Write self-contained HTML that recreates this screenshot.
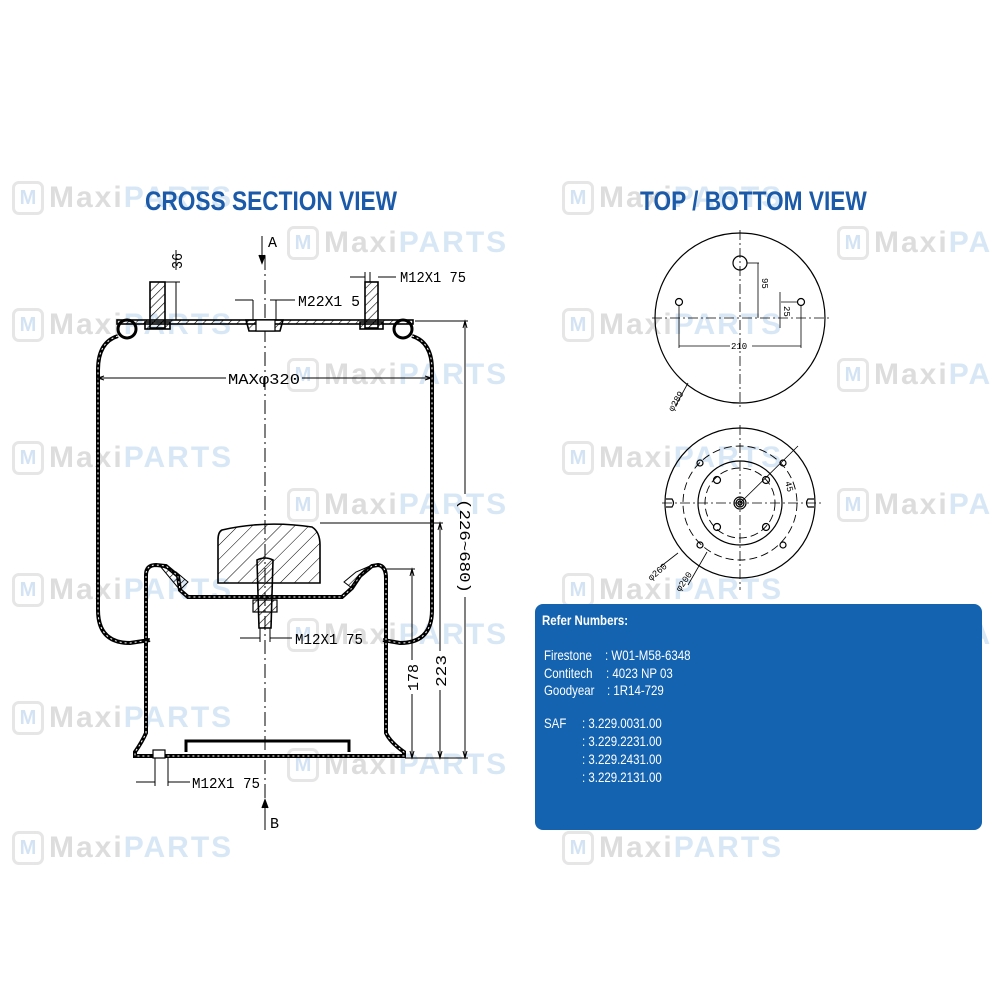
<!DOCTYPE html>
<html><head><meta charset="utf-8"><style>
html,body{margin:0;padding:0;background:#fff;}
body{width:1000px;height:1000px;position:relative;overflow:hidden;font-family:"Liberation Sans",sans-serif;}
.wm{position:absolute;height:34px;display:flex;align-items:center;font-weight:bold;font-size:30px;letter-spacing:2px;opacity:.45;}
.wm .hx{width:32px;height:34px;border:3px solid #c8c8c8;border-radius:7px;margin-right:5px;box-sizing:border-box;color:#9ec3e6;font-size:20px;text-align:center;line-height:28px;letter-spacing:0;}
.wm .a{color:#b4b4b4;}
.wm .b{color:#a9cbea;}
.title{position:absolute;color:#1a5aa8;font-weight:bold;font-size:27px;transform:scaleX(0.84);transform-origin:left center;white-space:nowrap;}
.box{position:absolute;left:535px;top:604px;width:447px;height:226px;background:#1463b0;border-radius:8px;color:#fff;}
.box div{position:absolute;font-size:14px;white-space:nowrap;transform:scaleX(0.82);transform-origin:left center;}
</style></head><body>
<div class="wm" style="left:12px;top:181px"><div class="hx">M</div><span class="a">Maxi</span><span class="b">PARTS</span></div>
<div class="wm" style="left:12px;top:308px"><div class="hx">M</div><span class="a">Maxi</span><span class="b">PARTS</span></div>
<div class="wm" style="left:12px;top:441px"><div class="hx">M</div><span class="a">Maxi</span><span class="b">PARTS</span></div>
<div class="wm" style="left:12px;top:573px"><div class="hx">M</div><span class="a">Maxi</span><span class="b">PARTS</span></div>
<div class="wm" style="left:12px;top:701px"><div class="hx">M</div><span class="a">Maxi</span><span class="b">PARTS</span></div>
<div class="wm" style="left:12px;top:831px"><div class="hx">M</div><span class="a">Maxi</span><span class="b">PARTS</span></div>
<div class="wm" style="left:287px;top:226px"><div class="hx">M</div><span class="a">Maxi</span><span class="b">PARTS</span></div>
<div class="wm" style="left:287px;top:358px"><div class="hx">M</div><span class="a">Maxi</span><span class="b">PARTS</span></div>
<div class="wm" style="left:287px;top:488px"><div class="hx">M</div><span class="a">Maxi</span><span class="b">PARTS</span></div>
<div class="wm" style="left:287px;top:618px"><div class="hx">M</div><span class="a">Maxi</span><span class="b">PARTS</span></div>
<div class="wm" style="left:287px;top:748px"><div class="hx">M</div><span class="a">Maxi</span><span class="b">PARTS</span></div>
<div class="wm" style="left:562px;top:181px"><div class="hx">M</div><span class="a">Maxi</span><span class="b">PARTS</span></div>
<div class="wm" style="left:562px;top:308px"><div class="hx">M</div><span class="a">Maxi</span><span class="b">PARTS</span></div>
<div class="wm" style="left:562px;top:441px"><div class="hx">M</div><span class="a">Maxi</span><span class="b">PARTS</span></div>
<div class="wm" style="left:562px;top:573px"><div class="hx">M</div><span class="a">Maxi</span><span class="b">PARTS</span></div>
<div class="wm" style="left:562px;top:831px"><div class="hx">M</div><span class="a">Maxi</span><span class="b">PARTS</span></div>
<div class="wm" style="left:837px;top:226px"><div class="hx">M</div><span class="a">Maxi</span><span class="b">PA</span></div>
<div class="wm" style="left:837px;top:358px"><div class="hx">M</div><span class="a">Maxi</span><span class="b">PA</span></div>
<div class="wm" style="left:837px;top:488px"><div class="hx">M</div><span class="a">Maxi</span><span class="b">PA</span></div>
<div class="wm" style="left:837px;top:618px"><div class="hx">M</div><span class="a">Maxi</span><span class="b">PA</span></div>

<div class="title" style="left:145px;top:186px">CROSS SECTION VIEW</div>
<div class="title" style="left:640px;top:186px">TOP / BOTTOM VIEW</div>

<svg width="1000" height="1000" style="position:absolute;left:0;top:0" xmlns="http://www.w3.org/2000/svg">
<defs>
<pattern id="h" width="6" height="6" patternUnits="userSpaceOnUse" patternTransform="rotate(45)"><line x1="0" y1="0" x2="0" y2="6" stroke="#000" stroke-width="1.2"/></pattern>
<pattern id="h2" width="10" height="10" patternUnits="userSpaceOnUse" patternTransform="rotate(45)"><line x1="0" y1="0" x2="0" y2="10" stroke="#000" stroke-width="1"/></pattern>
</defs>
<g fill="none" stroke="#000" stroke-width="1.3">
<line x1="265" y1="256" x2="265" y2="810" stroke-dasharray="14,4,2,4" stroke-width="1"/>
<line x1="262" y1="236" x2="262" y2="262" stroke-width="1"/><path d="M259,255 L262,263 L265,255" fill="#000"/>
<line x1="265" y1="800" x2="265" y2="830" stroke-width="1"/><path d="M262,808 L265,800 L268,808" fill="#000"/>
<rect x="117" y="320" width="296" height="4" fill="url(#h)" stroke-width="1.6"/>
<circle cx="127" cy="329" r="9" stroke-width="3"/>
<circle cx="403" cy="329" r="9" stroke-width="3"/>
<rect x="150" y="282" width="15" height="46" fill="url(#h)" stroke-width="1.6"/>
<rect x="145" y="322" width="25" height="7" fill="url(#h)" stroke-width="1.6"/>
<rect x="365" y="282" width="13" height="46" fill="url(#h)" stroke-width="1.6"/>
<rect x="360" y="322" width="23" height="7" fill="url(#h)" stroke-width="1.6"/>
<path d="M246,320 L283,320 L280,331 L249,331 Z" fill="url(#h)" stroke-width="1.6"/>
<rect x="256" y="320" width="19" height="11" fill="#fff" stroke-width="1.2"/>
<path d="M118,336 Q98,342 98,370 L98,610 Q98,643 130,643 L150,640" stroke-width="4"/>
<path d="M118,336 Q98,342 98,370 L98,610 Q98,643 130,643 L150,640" stroke="#fff" stroke-width="1" stroke-dasharray="2,3"/>
<path d="M412,336 Q432,342 432,370 L432,610 Q432,643 400,643 L383,640" stroke-width="4"/>
<path d="M412,336 Q432,342 432,370 L432,610 Q432,643 400,643 L383,640" stroke="#fff" stroke-width="1" stroke-dasharray="2,3"/>
<path d="M222,530 Q265,520 312,527 Q320,532 320,545 L320,583 L218,583 L218,540 Q218,532 222,530 Z" fill="url(#h2)" stroke-width="1.6"/>
<path d="M146,733 L146,575 Q146,565 156,565 L166,566 L178,576 L180,590 L188,597 L342,597 L352,588 L360,576 L372,566 L378,565 Q386,566 386,578 L386,733 Q390,742 404,752 L404,756 L135,756 L135,752 Q142,742 146,733 Z" stroke-width="4"/>
<path d="M146,733 L146,575 Q146,565 156,565 L166,566 L178,576 L180,590 L188,597 L342,597 L352,588 L360,576 L372,566 L378,565 Q386,566 386,578 L386,733 Q390,742 404,752 L404,756 L135,756 L135,752 Q142,742 146,733 Z" stroke="#fff" stroke-width="1" stroke-dasharray="2,3"/>
<path d="M186,752 L186,741 L349,741 L349,752" stroke-width="3"/>
<path d="M160,566 L176,572 L188,582 L180,590 Z M370,566 L356,572 L344,582 L352,588 Z" fill="url(#h)" stroke-width="1"/>
<path d="M257,560 Q265,556 273,560 L271,628 L259,628 Z" fill="url(#h)" stroke-width="1.6"/>
<rect x="253" y="600" width="24" height="12" fill="url(#h)" stroke-width="1.2"/>
<rect x="153" y="750" width="12" height="8" fill="#fff" stroke-width="1.2"/>
<line x1="99" y1="378" x2="226" y2="378" stroke-width="1"/><line x1="302" y1="378" x2="431" y2="378" stroke-width="1"/>
<path d="M104,376 L98,378 L104,380 M425,376 L431,378 L425,380" stroke-width="1"/>
<g stroke-width="1">
<line x1="320" y1="523" x2="443" y2="523"/>
<line x1="386" y1="569" x2="415" y2="569"/>
<line x1="415" y1="321" x2="468" y2="321"/>
<line x1="405" y1="758" x2="468" y2="758"/>
<line x1="412" y1="569" x2="412" y2="660"/><line x1="412" y1="694" x2="412" y2="758"/>
<line x1="440" y1="523" x2="440" y2="651"/><line x1="440" y1="690" x2="440" y2="758"/>
<line x1="465" y1="321" x2="465" y2="494"/><line x1="465" y1="597" x2="465" y2="758"/>
<path d="M410,576 L412,569 L414,576 M410,751 L412,758 L414,751 M438,530 L440,523 L442,530 M438,751 L440,758 L442,751 M463,328 L465,321 L467,328 M463,751 L465,758 L467,751"/>
<line x1="165" y1="282" x2="180" y2="282"/><line x1="176" y1="282" x2="176" y2="320"/><line x1="176" y1="250" x2="176" y2="270"/>
<line x1="350" y1="277" x2="365" y2="277"/><line x1="378" y1="277" x2="396" y2="277"/>
<line x1="365" y1="272" x2="365" y2="282"/><line x1="370" y1="272" x2="370" y2="282"/>
<line x1="235" y1="300" x2="253" y2="300"/><line x1="270" y1="300" x2="295" y2="300"/>
<line x1="253" y1="300" x2="253" y2="320"/><line x1="276" y1="300" x2="276" y2="320"/>
<line x1="240" y1="638" x2="260" y2="638"/><line x1="270" y1="638" x2="292" y2="638"/>
<line x1="260" y1="628" x2="260" y2="642"/><line x1="270" y1="628" x2="270" y2="642"/>
<line x1="136" y1="782" x2="155" y2="782"/><line x1="168" y1="782" x2="190" y2="782"/>
<line x1="155" y1="758" x2="155" y2="786"/><line x1="168" y1="758" x2="168" y2="786"/>
</g>
</g>
<g font-family="Liberation Mono, monospace" font-size="15" fill="#000" lengthAdjust="spacingAndGlyphs">
<text x="268" y="247">A</text>
<text x="270" y="828">B</text>
<text x="228" y="384" textLength="72" lengthAdjust="spacingAndGlyphs">MAXφ320</text>
<text x="400" y="282" textLength="66" lengthAdjust="spacingAndGlyphs">M12X1 75</text>
<text x="298" y="306" textLength="62" lengthAdjust="spacingAndGlyphs">M22X1 5</text>
<text x="295" y="644" textLength="68" lengthAdjust="spacingAndGlyphs">M12X1 75</text>
<text x="192" y="788" textLength="68" lengthAdjust="spacingAndGlyphs">M12X1 75</text>
<text transform="translate(182,269) rotate(-90)" textLength="16" lengthAdjust="spacingAndGlyphs">36</text>
<text transform="translate(418,691) rotate(-90)" textLength="27" lengthAdjust="spacingAndGlyphs">178</text>
<text transform="translate(446,687) rotate(-90)" textLength="32" lengthAdjust="spacingAndGlyphs">223</text>
<text transform="translate(460,499) rotate(90)" textLength="94" lengthAdjust="spacingAndGlyphs">(226~680)</text>
</g>

<g fill="none" stroke="#000" stroke-width="1.2">
<circle cx="740" cy="318" r="85"/>
<line x1="740" y1="230" x2="740" y2="410" stroke-dasharray="10,3,2,3" stroke-width="0.8"/>
<line x1="652" y1="318" x2="830" y2="318" stroke-dasharray="10,3,2,3" stroke-width="0.8"/>
<circle cx="740" cy="263" r="7"/>
<circle cx="679" cy="302" r="3.5"/><circle cx="801" cy="302" r="3.5"/>
<g stroke-width="0.8">
<line x1="747" y1="263" x2="759" y2="263"/><line x1="758" y1="263" x2="758" y2="318"/>
<line x1="781" y1="302" x2="798" y2="302"/><line x1="780" y1="292" x2="780" y2="328"/>
<line x1="679" y1="305" x2="679" y2="348"/><line x1="801" y1="305" x2="801" y2="348"/>
<line x1="679" y1="346" x2="730" y2="346"/><line x1="752" y1="346" x2="801" y2="346"/>
<line x1="688" y1="383" x2="676" y2="405"/>
</g>
<circle cx="740" cy="503" r="75"/>
<circle cx="740" cy="503" r="57" stroke-dasharray="8,4" stroke-width="0.9"/>
<circle cx="740" cy="503" r="42"/>
<circle cx="740" cy="503" r="35" stroke-dasharray="8,4" stroke-width="0.9"/>
<line x1="740" y1="425" x2="740" y2="590" stroke-dasharray="10,3,2,3" stroke-width="0.8"/>
<line x1="662" y1="503" x2="822" y2="503" stroke-dasharray="10,3,2,3" stroke-width="0.8"/>
<circle cx="700" cy="463" r="3"/><circle cx="783" cy="463" r="3"/><circle cx="700" cy="545" r="3"/><circle cx="783" cy="545" r="3"/>
<circle cx="717" cy="480" r="3.5"/><circle cx="766" cy="480" r="3.5"/><circle cx="717" cy="527" r="3.5"/><circle cx="766" cy="527" r="3.5"/>
<circle cx="740" cy="503" r="6"/><circle cx="740" cy="503" r="4"/><circle cx="740" cy="503" r="2"/>
<path d="M666,499 L672,499 Q675,503 672,507 L666,507 M814,499 L808,499 Q805,503 808,507 L814,507"/>
<g stroke-width="0.8">
<line x1="740" y1="503" x2="798" y2="446"/>
<line x1="678" y1="553" x2="660" y2="567"/>
<line x1="707" y1="552" x2="688" y2="585"/>
</g>
</g>
<g font-family="Liberation Mono, monospace" font-size="9" fill="#000">
<text transform="translate(762,278) rotate(90)">95</text>
<text transform="translate(784,306) rotate(90)">25</text>
<text x="731" y="349">210</text>
<text transform="translate(673,412) rotate(-60)">φ289</text>
<text transform="translate(651,581) rotate(-40)">φ260</text>
<text transform="translate(680,592) rotate(-55)">φ200</text>
<text transform="translate(785,482) rotate(75)">45</text>
</g>
</svg>

<div class="box">
<div style="left:7px;top:8px;font-weight:bold;">Refer Numbers:</div>
<div style="left:9px;top:43px;">Firestone</div><div style="left:70px;top:43px;">: W01-M58-6348</div>
<div style="left:9px;top:61px;">Contitech</div><div style="left:71px;top:61px;">: 4023 NP 03</div>
<div style="left:9px;top:78px;">Goodyear</div><div style="left:72px;top:78px;">: 1R14-729</div>
<div style="left:9px;top:111px;">SAF</div><div style="left:47px;top:111px;">: 3.229.0031.00</div>
<div style="left:47px;top:129px;">: 3.229.2231.00</div>
<div style="left:47px;top:147px;">: 3.229.2431.00</div>
<div style="left:47px;top:165px;">: 3.229.2131.00</div>
</div>
</body></html>
